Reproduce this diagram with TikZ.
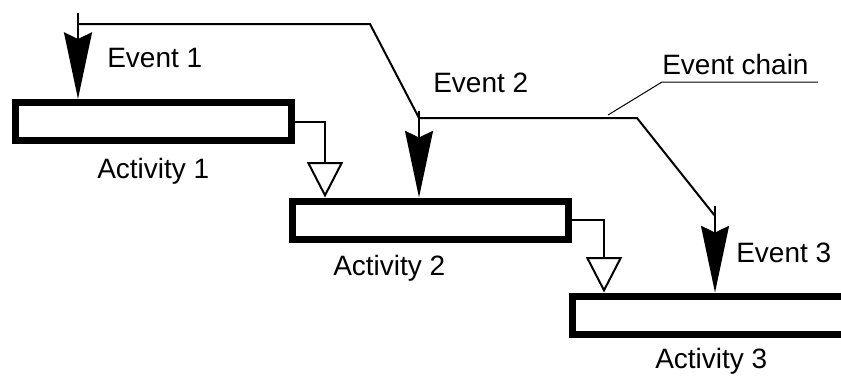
\documentclass[tikz,border=0pt]{standalone}
\usepackage{fontspec}
\setmainfont{Liberation Sans}
\usetikzlibrary{arrows.meta,positioning}

\tikzset{
  activity/.style={draw, fill=white, line width=5.25pt, minimum width=207pt, minimum height=28.5pt, inner sep=0pt},
  chainline/.style={line width=1.5pt},
  event/.style={line width=1.5pt, -{Stealth[length=50pt, width=21pt, inset=5pt]}},
  flow/.style={line width=1.5pt, -{Triangle[open, length=26.5pt, width=27pt]}},
  txt/.style={anchor=base west, inner sep=0pt, font=\fontsize{21}{25}\selectfont}
}

\begin{document}
\begin{tikzpicture}[x=0.75pt,y=0.75pt,yscale=-1,xscale=1]
    \useasboundingbox (0,0) rectangle (841,375);

    % Activities
    \node[activity] (act1) at (153.5,121.5) {};
    \node[activity] (act2) at (430,220) {};
    \node[activity] (act3) at (710,315) {};

    % Event chain corners
    \coordinate (e1top) at (78,13);
    \coordinate (c1) at (78,24);
    \coordinate (c2) at (370,24);
    \coordinate (c3) at (419,118);
    \coordinate (e2top) at (419,111);
    \coordinate (c4) at (637,118);
    \coordinate (c5) at (715,216);
    \coordinate (e3top) at (715,206);

    %Straight Lines
    \draw[chainline] (c1) -- (c2) -- (c3) -- (c4) -- (c5);
    \draw[event] (e1top) -- (e1top |- act1.north);
    \draw[event] (e2top) -- (e2top |- act2.north);
    \draw[event] (e3top) -- (e3top |- act3.north);

    % flow between activities
    \coordinate (f1) at (325,0);
    \coordinate (f2) at (604,0);
    \draw[flow] (act1.east) -| (f1 |- act2.north);
    \draw[flow] (act2.east) -| (f2 |- act3.north);

    % leader of the chain label
    \coordinate (u1) at (662,82);
    \coordinate (u2) at (818,82);
    \coordinate (lead) at (608,115);
    \draw[line width=0.75pt] (u2) -- (u1) -- (lead);

    % Text Node
    \node[txt] (ev1) at (107,67) {Event 1};
    \node[txt] (ev2) at (433,92) {Event 2};
    \node[txt] (ev3) at (736,262) {Event 3};
    \node[txt] (evc) at (662,74) {Event chain};
    \node[txt] (ac1) at (97,178) {Activity 1};
    \node[txt] (ac2) at (333,275) {Activity 2};
    \node[txt] (ac3) at (655,368) {Activity 3};

\end{tikzpicture}
\end{document}
